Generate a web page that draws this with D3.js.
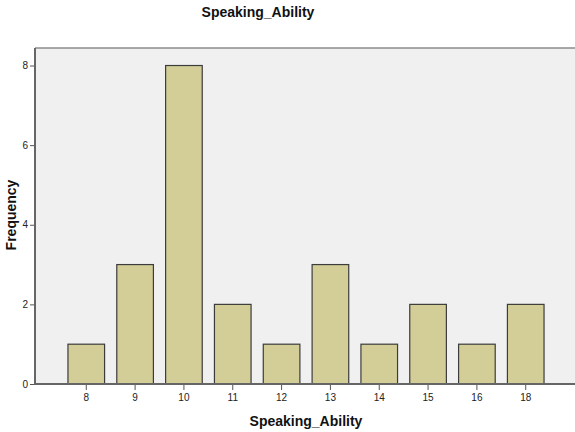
<!DOCTYPE html>
<html>
<head>
<meta charset="utf-8">
<script src="https://cdn.jsdelivr.net/npm/d3@7"></script>
<style>
  body { margin: 0; background: #fff; }
  text { font-family: Arial, "Liberation Sans", sans-serif; }
</style>
</head>
<body>
<script>
// Speaking_Ability frequency bar chart (SPSS style)
const categories = ["8", "9", "10", "11", "12", "13", "14", "15", "16", "18"];
const frequencies = [1, 3, 8, 2, 1, 3, 1, 2, 1, 2];
const yTicks = [0, 2, 4, 6, 8];

const W = 575, H = 432;
const plot = {left: 35, top: 48, right: 577, bottom: 384};

const svg = d3.select("body").append("svg")
    .attr("width", W)
    .attr("height", H);

const data = categories.map((c, i) => ({cat: c, val: frequencies[i]}));

const xScale = d3.scaleBand()
    .domain(categories)
    .range([plot.left, plot.right])
    .paddingInner(0.25)
    .paddingOuter(0.675);

const yScale = d3.scaleLinear()
    .domain([0, 8.44])
    .range([plot.bottom, plot.top]);

// plot background
svg.append("rect")
    .attr("x", plot.left)
    .attr("y", plot.top)
    .attr("width", W - plot.left)
    .attr("height", plot.bottom - plot.top)
    .attr("fill", "#f0f0f0");

svg.append("line")
    .attr("x1", plot.left).attr("x2", W)
    .attr("y1", plot.top).attr("y2", plot.top)
    .attr("stroke", "#8c8c8c")
    .attr("stroke-width", 1.5);

// bars
svg.selectAll(".bar").data(data)
  .enter().append("rect")
    .attr("class", "bar")
    .attr("x", d => xScale(d.cat))
    .attr("y", d => yScale(d.val))
    .attr("width", xScale.bandwidth())
    .attr("height", d => yScale(0) - yScale(d.val))
    .attr("fill", "#d3ce97")
    .attr("stroke", "#3c3c3c")
    .attr("stroke-width", 1.2);

// y axis
const yAxis = d3.axisLeft(yScale).tickValues(yTicks).tickSize(5).tickPadding(2);
const gy = svg.append("g")
    .attr("transform", `translate(${plot.left},0)`)
    .call(yAxis);
gy.select(".domain").remove();
gy.selectAll(".tick line").attr("stroke", "#555");
gy.selectAll(".tick text").attr("font-size", 10).attr("fill", "#222");
svg.append("line")
    .attr("x1", plot.left).attr("x2", plot.left)
    .attr("y1", plot.top).attr("y2", plot.bottom)
    .attr("stroke", "#666")
    .attr("stroke-width", 2);

// x axis
const xAxis = d3.axisBottom(xScale).tickSize(6).tickPadding(4);
const gx = svg.append("g")
    .attr("transform", `translate(0,${plot.bottom})`)
    .call(xAxis);
gx.select(".domain").remove();
gx.selectAll(".tick line").attr("stroke", "#555");
gx.selectAll(".tick text").attr("font-size", 10).attr("fill", "#222");
svg.append("line")
    .attr("x1", plot.left - 1).attr("x2", W)
    .attr("y1", plot.bottom).attr("y2", plot.bottom)
    .attr("stroke", "#666")
    .attr("stroke-width", 2);

// titles
svg.append("text")
    .attr("x", 258)
    .attr("y", 17)
    .attr("text-anchor", "middle")
    .attr("font-size", 14)
    .attr("font-weight", "bold")
    .attr("fill", "#111")
    .text("Speaking_Ability");

svg.append("text")
    .attr("x", 306)
    .attr("y", 426)
    .attr("text-anchor", "middle")
    .attr("font-size", 14)
    .attr("font-weight", "bold")
    .attr("fill", "#111")
    .text("Speaking_Ability");

svg.append("text")
    .attr("transform", "translate(16,215) rotate(-90)")
    .attr("text-anchor", "middle")
    .attr("font-size", 14)
    .attr("font-weight", "bold")
    .attr("fill", "#111")
    .text("Frequency");
</script>
</body>
</html>
